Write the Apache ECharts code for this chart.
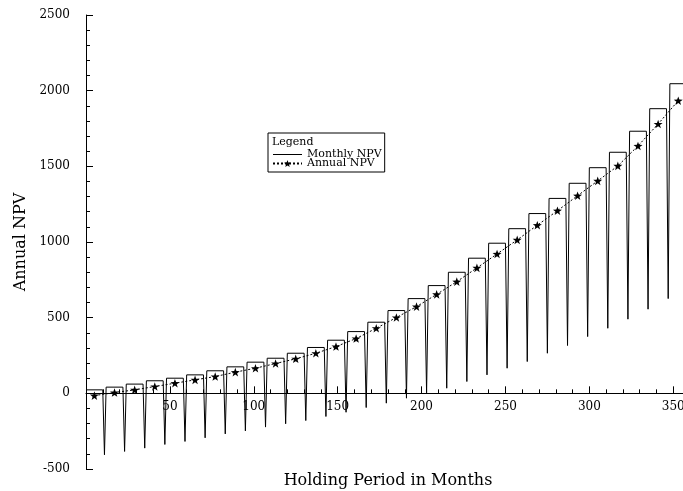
<!DOCTYPE html>
<html>
<head>
<meta charset="utf-8">
<script src="https://cdn.jsdelivr.net/npm/echarts@6/dist/echarts.min.js"></script>
<style>
  html, body { margin: 0; padding: 0; background: #fff; }
  #chart { width: 683px; height: 491px; }
</style>
</head>
<body>
<div id="chart"></div>
<script>
// flat value of the monthly NPV within each year (year 1..30)
const yearTops = [23, 41, 61, 83, 100, 122, 149, 175, 206, 232,
  265, 303, 351, 408, 470, 547, 626, 712, 800, 893,
  992, 1088, 1188, 1288, 1388, 1491, 1593, 1732, 1881, 2046]
// monthly NPV at the last month of each year (spikes, year 1..29)
const yearLows = [-406, -384, -362, -338, -318, -294, -268, -248, -223, -201,
  -180, -153, -125, -94, -65, -32, 3, 34, 78, 122,
  166, 210, 265, 316, 375, 430, 490, 556, 626]
// annual NPV markers
const annualMonths = [5, 17, 29, 41, 53, 65, 77, 89, 101, 113,
  125, 137, 149, 161, 173, 185, 197, 209, 221, 233,
  245, 257, 269, 281, 293, 305, 317, 329, 341, 353]
const annualValues = [-15, 5, 23, 45, 67, 89, 111, 140, 166, 197,
  228, 265, 309, 362, 430, 501, 573, 654, 738, 829,
  921, 1014, 1111, 1207, 1306, 1404, 1503, 1635, 1780, 1934]

const FONT = 'DejaVu Serif'
const STAR = 'path://M50,0L61.8,33.8L97.6,34.5L69,56.2L79.4,90.5L50,70L20.6,90.5L31,56.2L2.4,34.5L38.2,33.8Z'
const PLOT_H = 491 - 15 - 22
// lift the x axis from the bottom of the grid up to the zero line
const X_OFFSET = -PLOT_H * 500 / 3000

function monthlyPoints() {
  const pts = []
  yearTops.forEach((top, k) => {
    pts.push([12 * k, top])
    pts.push([12 * k + 10, top])
    if (k < yearLows.length) pts.push([12 * k + 11, yearLows[k]])
    else pts.push([12 * k + 12, top])
  })
  return pts
}

function getOption() {
  return {
    backgroundColor: '#fff',
    animation: false,
    textStyle: { fontFamily: FONT, color: '#000' },
    grid: { left: 86, right: -7, top: 15, bottom: 22, outerBoundsMode: 'none', containLabel: false },
    legend: {
      orient: 'vertical',
      left: 268,
      top: 133,
      padding: [16, 3, 3, 4],
      borderColor: '#000',
      borderWidth: 1,
      itemGap: -2,
      itemWidth: 29,
      itemHeight: 9,
      symbolKeepAspect: true,
      textStyle: { fontFamily: FONT, fontSize: 11, color: '#000' },
      data: [
        { name: 'Monthly NPV', icon: 'path://M0,0H29V1H0Z' },
        { name: 'Annual NPV' },
      ],
    },
    graphic: [{
      type: 'text',
      left: 272,
      top: 137,
      style: { text: 'Legend', font: '11px "DejaVu Serif"', fill: '#000' },
    }],
    xAxis: {
      type: 'value',
      min: 0,
      max: 360,
      interval: 50,
      offset: X_OFFSET,
      name: 'Holding Period in Months',
      nameLocation: 'middle',
      nameGap: 80,
      nameTextStyle: { fontFamily: FONT, fontSize: 16, color: '#000' },
      axisLine: { onZero: false, lineStyle: { color: '#000', width: 1 } },
      axisTick: { inside: true, length: 7, lineStyle: { color: '#000' } },
      minorTick: { show: true, splitNumber: 5, length: 4, lineStyle: { color: '#000' } },
      axisLabel: { fontFamily: FONT, fontSize: 12, color: '#000', margin: 8, showMinLabel: false },
      splitLine: { show: false },
    },
    yAxis: {
      type: 'value',
      min: -500,
      max: 2500,
      interval: 500,
      name: 'Annual NPV',
      nameLocation: 'middle',
      nameGap: 50,
      nameTextStyle: { fontFamily: FONT, fontSize: 16, color: '#000' },
      axisLine: { show: true, lineStyle: { color: '#000', width: 1 } },
      axisTick: { show: true, inside: true, length: 7, lineStyle: { color: '#000' } },
      minorTick: { show: true, splitNumber: 5, length: 4, lineStyle: { color: '#000' } },
      axisLabel: { fontFamily: FONT, fontSize: 12, color: '#000', margin: 16, formatter: (v) => String(v) },
      splitLine: { show: false },
    },
    series: [
      {
        name: 'Monthly NPV',
        type: 'line',
        data: monthlyPoints(),
        showSymbol: false,
        symbol: 'none',
        lineStyle: { color: '#000', width: 1 },
        itemStyle: { color: '#000' },
      },
      {
        name: 'Annual NPV',
        type: 'line',
        data: annualMonths.map((m, i) => [m, annualValues[i]]),
        symbol: STAR,
        symbolSize: 9,
        symbolKeepAspect: true,
        lineStyle: { color: '#000', width: 1, type: [2, 2] },
        itemStyle: { color: '#000' },
      },
    ],
  }
}

const chart = echarts.init(document.getElementById('chart'))
chart.setOption(getOption())
</script>
</body>
</html>
